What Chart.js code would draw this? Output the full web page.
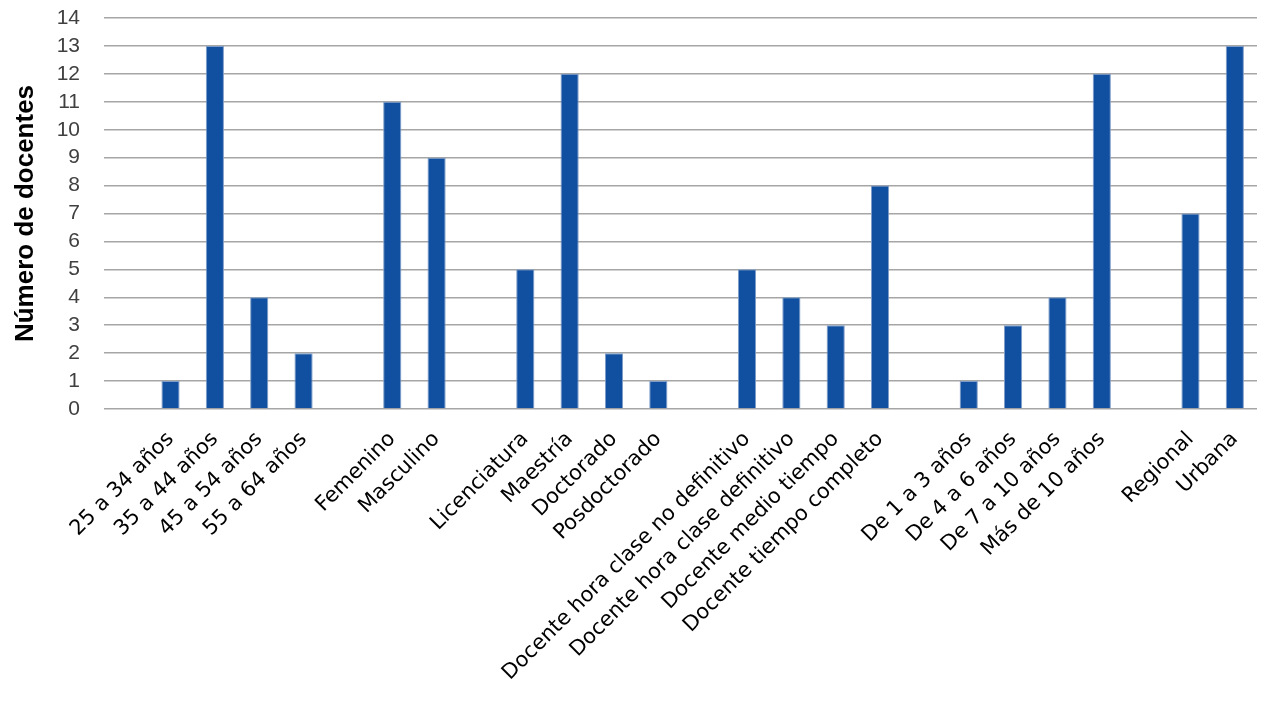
<!DOCTYPE html>
<html>
<head>
<meta charset="utf-8">
<script src="https://cdn.jsdelivr.net/npm/chart.js@4/dist/chart.umd.min.js"></script>
<style>
  html, body { margin: 0; padding: 0; background: #fff; }
  #wrap { width: 1284px; height: 705px; }
</style>
</head>
<body>
<div id="wrap"><canvas id="chart-docentes"></canvas></div>
<script>
// categorias (las vacias separan los grupos)
var categorias = ["",
  "25 a 34 años", "35 a 44 años", "45 a 54 años", "55 a 64 años", "",
  "Femenino", "Masculino", "",
  "Licenciatura", "Maestría", "Doctorado", "Posdoctorado", "",
  "Docente hora clase no definitivo", "Docente hora clase definitivo",
  "Docente medio tiempo", "Docente tiempo completo", "",
  "De 1 a 3 años", "De 4 a 6 años", "De 7 a 10 años", "Más de 10 años", "",
  "Regional", "Urbana"];

var docentes = [null,
  1, 13, 4, 2, null,
  11, 9, null,
  5, 12, 2, 1, null,
  5, 4, 3, 8, null,
  1, 3, 4, 12, null,
  7, 13];

var ejeY = { min: 0, max: 14, paso: 1 };
var tituloY = "Número de docentes";

new Chart(document.getElementById("chart-docentes"), {
    type: 'bar',
    data: {
        labels: categorias,
        datasets: [{
            data: docentes,
            backgroundColor: '#1150A0',
            borderColor: '#7F9CC8',
            borderWidth: 1,
            categoryPercentage: 1,
            barPercentage: 0.41
        }]
    },
    options: {
        responsive: true,
        maintainAspectRatio: false,
        animation: false,
        layout: { padding: { top: 18, right: 27, left: 0, bottom: 0 } },
        plugins: {
            legend: { display: false },
            tooltip: { enabled: false }
        },
        scales: {
            x: {
                grid: { display: false },
                border: { display: false },
                afterFit: function(s) { s.height = 296; },
                ticks: {
                    autoSkip: false,
                    minRotation: 45,
                    maxRotation: 45,
                    padding: 10,
                    color: '#000',
                    font: { family: 'DejaVu Sans', size: 21 }
                }
            },
            y: {
                min: ejeY.min,
                max: ejeY.max,
                border: { display: false },
                afterFit: function(s) {
                    s.width = 104;
                    s.paddingTop = 0;
                    s.paddingBottom = 0;
                },
                grid: { color: '#A6A6A6', lineWidth: 1.5, drawTicks: false },
                ticks: {
                    stepSize: ejeY.paso,
                    autoSkip: false,
                    padding: 24,
                    color: '#404040',
                    font: { family: 'Liberation Sans', size: 21 }
                },
                title: {
                    display: true,
                    text: tituloY,
                    color: '#000',
                    padding: { top: 10, bottom: 4 },
                    font: { family: 'Liberation Sans', size: 26, weight: 'bold' }
                }
            }
        }
    }
});
</script>
</body>
</html>
